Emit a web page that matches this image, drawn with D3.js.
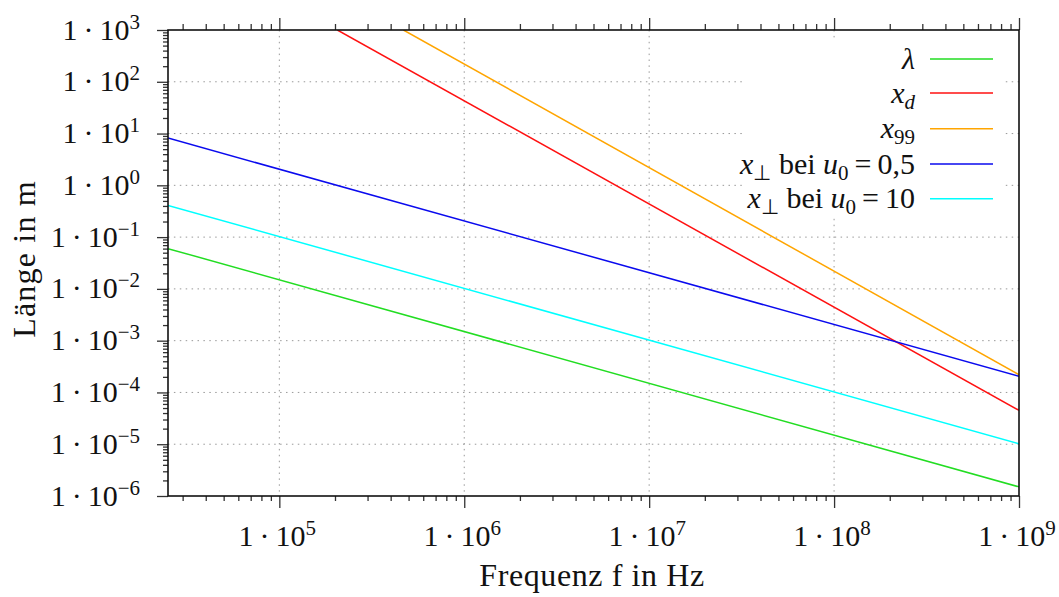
<!DOCTYPE html>
<html>
<head>
<meta charset="utf-8">
<script src="https://cdn.jsdelivr.net/npm/d3@7"></script>
<style>
  body { margin: 0; background: #fff; }
</style>
</head>
<body>
<div id="chart"></div>
<script>
// Data (log-log straight lines, endpoints only)
const freqRange = [2.5e4, 1e9];
const lambdaVals = [0.06, 1.5e-6];
const perp05Vals = [8.2, 2.05e-4];
const perp10Vals = [0.41, 1.02e-5];
const xdFreq = [2.06e5, 1e9];
const xdVals = [1000, 4.5e-5];
const x99Freq = [4.69e5, 1e9];
const x99Vals = [1000, 2.2e-4];

const xMajor = [1e5, 1e6, 1e7, 1e8, 1e9];
const yMajor = [1e-6, 1e-5, 1e-4, 1e-3, 1e-2, 1e-1, 1e0, 1e1, 1e2, 1e3];

const series = [
  { key: "lambda", freq: freqRange, vals: lambdaVals, color: "#22dd22" },
  { key: "xd", freq: xdFreq, vals: xdVals, color: "#ff1111" },
  { key: "x99", freq: x99Freq, vals: x99Vals, color: "#ffa500" },
  { key: "perp05", freq: freqRange, vals: perp05Vals, color: "#0a0aee" },
  { key: "perp10", freq: freqRange, vals: perp10Vals, color: "#00ffff" }
];

const FONT = "Liberation Serif";

// Set the dimensions and margins of the graph
const margin = { top: 30, right: 40, bottom: 101, left: 168 },
    width = 1059 - margin.left - margin.right,
    height = 597 - margin.top - margin.bottom;

const svg = d3.select("#chart")
  .append("svg")
    .attr("width", 1059)
    .attr("height", 597)
  .append("g")
    .attr("transform", `translate(${margin.left},${margin.top})`)
    .attr("font-family", FONT);

const x = d3.scaleLog().domain([2.5e4, 1e9]).range([0, width]);
const y = d3.scaleLog().domain([1e-6, 1e3]).range([height, 0]);

// minor ticks 2..9 per decade
function minors(lo, hi) {
  const out = [];
  for (let e = Math.floor(Math.log10(lo)); e < Math.ceil(Math.log10(hi)); e++) {
    for (let m = 2; m <= 9; m++) {
      const v = m * Math.pow(10, e);
      if (v >= lo && v <= hi) out.push(v);
    }
  }
  return out;
}
const xMinor = minors(2.5e4, 1e9);
const yMinor = minors(1e-6, 1e3);

// Grid
const grid = svg.append("g").attr("stroke", "#999").attr("stroke-width", 1)
  .attr("stroke-dasharray", "1.5,4.4");
grid.selectAll(".gx").data(xMajor.slice(0, -1)).enter().append("line")
  .attr("x1", d => x(d)).attr("x2", d => x(d)).attr("y1", 0).attr("y2", height);
grid.selectAll(".gy").data(yMajor.slice(1, -1)).enter().append("line")
  .attr("y1", d => y(d)).attr("y2", d => y(d)).attr("x1", 0).attr("x2", width);

// Opaque key box hides the grid
svg.append("rect")
  .attr("x", 745 - margin.left).attr("y", 40 - margin.top)
  .attr("width", 260).attr("height", 175).attr("fill", "#fff");

// Lines
svg.append("clipPath").attr("id", "clip")
  .append("rect").attr("width", width).attr("height", height);

const line = d3.line().x(d => x(d[0])).y(d => y(d[1]));
svg.append("g").attr("clip-path", "url(#clip)")
  .selectAll("path").data(series).enter().append("path")
    .attr("d", s => line(d3.zip(s.freq, s.vals)))
    .attr("fill", "none")
    .attr("stroke", s => s.color)
    .attr("stroke-width", 1.5);

// Axes (tick marks only)
function tickAxis(axis, size, vals) {
  return axis.tickValues(vals).tickSize(size).tickFormat("");
}
const axisStyle = g => {
  g.select(".domain").remove();
  g.selectAll("line").attr("stroke", "#333").attr("stroke-width", 1.3);
};
svg.append("g").attr("transform", `translate(0,${height})`)
  .call(tickAxis(d3.axisBottom(x), 5, xMinor)).call(axisStyle);
svg.append("g").attr("transform", `translate(0,${height})`)
  .call(tickAxis(d3.axisBottom(x), 12, xMajor)).call(axisStyle);
svg.append("g").call(tickAxis(d3.axisTop(x), 6, xMinor)).call(axisStyle);
svg.append("g").call(tickAxis(d3.axisTop(x), 12, xMajor)).call(axisStyle);
svg.append("g").call(tickAxis(d3.axisLeft(y), 5, yMinor)).call(axisStyle);
svg.append("g").call(tickAxis(d3.axisLeft(y), 11, yMajor)).call(axisStyle);

// Frame
svg.append("rect")
  .attr("width", width).attr("height", height)
  .attr("fill", "none").attr("stroke", "#111").attr("stroke-width", 1.6);

// Tick labels 1·10^n
function expLabel(t, d) {
  const e = Math.round(Math.log10(d));
  t.append("tspan").text("1\u2009·\u200910");
  t.append("tspan").attr("dy", -11).attr("font-size", 21)
    .text(e < 0 ? "\u2212" + (-e) : String(e));
}
svg.selectAll(".ylab").data(yMajor).enter().append("text")
  .attr("x", -28).attr("y", d => y(d) + 9.5)
  .attr("font-family", FONT).attr("font-size", 30).attr("fill", "#111")
  .attr("text-anchor", "end")
  .each(function(d) { expLabel(d3.select(this), d); });

svg.selectAll(".xlab").data(xMajor).enter().append("text")
  .attr("x", d => x(d) - 2).attr("y", height + 50)
  .attr("font-family", FONT).attr("font-size", 30).attr("fill", "#111")
  .attr("text-anchor", "middle")
  .each(function(d) { expLabel(d3.select(this), d); });

// Axis titles
svg.append("text")
  .attr("x", 592 - margin.left).attr("y", height + 90)
  .attr("font-family", FONT).attr("font-size", 32).attr("fill", "#111")
  .attr("letter-spacing", 0.6)
  .attr("text-anchor", "middle")
  .text("Frequenz f in Hz");

svg.append("text")
  .attr("transform", "rotate(-90)")
  .attr("x", -(259 - margin.top)).attr("y", 35 - margin.left)
  .attr("font-family", FONT).attr("font-size", 32).attr("fill", "#111")
  .attr("letter-spacing", 1.2)
  .attr("text-anchor", "middle")
  .text("Länge in m");

// Legend
const legendRows = [59, 93, 128.7, 164, 198.7];
const legend = svg.append("g");
function sub(t, s, italic) {
  t.append("tspan").attr("font-size", 21).attr("dy", 6)
    .attr("font-style", italic ? "italic" : "normal").text(s);
}
function perp(t, val) {
  t.append("tspan").attr("font-style", "italic").text("x");
  sub(t, "\u22a5", false);
  t.append("tspan").attr("dy", -6).text(" bei ");
  t.append("tspan").attr("font-style", "italic").text("u");
  sub(t, "0", false);
  t.append("tspan").attr("dy", -6).text("\u2009=\u2009" + val);
}
const labelFns = [
  t => { t.append("tspan").attr("font-style", "italic").text("λ"); },
  t => {
    t.append("tspan").attr("font-style", "italic").text("x");
    sub(t, "d", true);
  },
  t => {
    t.append("tspan").attr("font-style", "italic").text("x");
    sub(t, "99", false);
  },
  t => perp(t, "0,5"),
  t => perp(t, "10")
];
series.forEach((s, i) => {
  const yy = legendRows[i] - margin.top;
  legend.append("line")
    .attr("x1", 930 - margin.left).attr("x2", 993 - margin.left)
    .attr("y1", yy).attr("y2", yy)
    .attr("stroke", s.color).attr("stroke-width", 1.5);
  const t = legend.append("text")
    .attr("x", 915 - margin.left).attr("y", yy + 9.5)
    .attr("font-family", FONT).attr("font-size", 30).attr("fill", "#111")
    .attr("text-anchor", "end");
  labelFns[i](t);
});
</script>
</body>
</html>
